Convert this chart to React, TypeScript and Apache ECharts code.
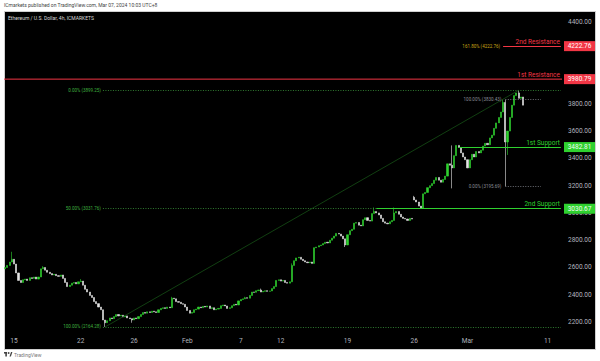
import React, { useEffect, useRef } from "react";
import * as echarts from "echarts";

const tradingDays = [
  "2024-01-12",
  "2024-01-15", "2024-01-16", "2024-01-17", "2024-01-18", "2024-01-19",
  "2024-01-22", "2024-01-23", "2024-01-24", "2024-01-25", "2024-01-26",
  "2024-01-29", "2024-01-30", "2024-01-31", "2024-02-01", "2024-02-02",
  "2024-02-05", "2024-02-06", "2024-02-07", "2024-02-08", "2024-02-09",
  "2024-02-12", "2024-02-13", "2024-02-14", "2024-02-15", "2024-02-16",
  "2024-02-19", "2024-02-20", "2024-02-21", "2024-02-22", "2024-02-23",
  "2024-02-26", "2024-02-27", "2024-02-28", "2024-02-29", "2024-03-01",
  "2024-03-04", "2024-03-05", "2024-03-06", "2024-03-07", "2024-03-08",
  "2024-03-11", "2024-03-12",
];
const sessionHours = ["00:00", "04:00", "08:00", "12:00", "16:00", "20:00"];

const xTickLabels: Record<string, string> = {
  "2024-01-15 00:00": "15",
  "2024-01-22 00:00": "22",
  "2024-01-26 00:00": "26",
  "2024-02-01 00:00": "Feb",
  "2024-02-07 00:00": "7",
  "2024-02-12 00:00": "12",
  "2024-02-19 00:00": "19",
  "2024-02-26 00:00": "26",
  "2024-03-01 00:00": "Mar",
  "2024-03-11 00:00": "11",
};

const yTicks = [2200, 2400, 2600, 2800, 3000, 3200, 3400, 3600, 3800, 4000, 4200, 4400];

const firstOpen = 2590;
const closes = [
  2600, 2615, 2640, 2660, 2625, 2560, 2505, 2490, 2510, 2515,
  2505, 2525, 2520, 2530, 2515, 2530, 2590, 2600, 2580, 2565,
  2555, 2545, 2550, 2540, 2535, 2545, 2520, 2490, 2460, 2470,
  2485, 2490, 2480, 2495, 2500, 2470, 2440, 2420, 2395, 2380,
  2350, 2335, 2310, 2290, 2215, 2195, 2210, 2230, 2225, 2240,
  2255, 2245, 2250, 2238, 2245, 2230, 2225, 2215, 2230, 2225,
  2240, 2255, 2270, 2265, 2275, 2270, 2280, 2275, 2270, 2290,
  2300, 2305, 2300, 2310, 2305, 2375, 2370, 2350, 2345, 2335,
  2330, 2310, 2285, 2265, 2270, 2290, 2295, 2310, 2305, 2315,
  2310, 2318, 2300, 2305, 2290, 2295, 2300, 2320, 2325, 2318,
  2300, 2305, 2320, 2330, 2325, 2355, 2365, 2370, 2378, 2375,
  2395, 2420, 2418, 2430, 2435, 2420, 2425, 2430, 2425, 2428,
  2445, 2460, 2505, 2510, 2500, 2505, 2490, 2485, 2495, 2615,
  2650, 2670, 2675, 2660, 2650, 2640, 2635, 2640, 2630, 2745,
  2750, 2760, 2765, 2775, 2785, 2780, 2800, 2815, 2830, 2850,
  2845, 2830, 2810, 2765, 2840, 2870, 2880, 2925, 2930, 2910,
  2905, 2950, 2965, 2945, 2940, 2995, 3010, 3000, 2985, 2960,
  2935, 2925, 2920, 2935, 2945, 3000, 3010, 2990, 2970, 2960,
  2955, 2945, 2960, 2955, 3095, 3080, 3050, 3035, 3140, 3150,
  3185, 3200, 3215, 3240, 3260, 3240, 3225, 3245, 3270, 3360,
  3350, 3330, 3420, 3495, 3480, 3440, 3410, 3390, 3330, 3390,
  3430, 3410, 3450, 3440, 3460, 3490, 3510, 3500, 3550, 3570,
  3620, 3660, 3700, 3740, 3810, 3520, 3600, 3700, 3790, 3860,
  3880, 3840, 3850, 3790,
];
const gapOpens: Record<number, number> = { 184: 3115 };
const wickHighs: Record<number, number> = {
  3: 2715, 17: 2610, 34: 2515, 75: 2385, 108: 2385, 115: 2445, 129: 2630,
  166: 3040, 175: 3040, 184: 3125, 201: 3495, 224: 3830, 225: 3830, 231: 3899.25,
};
const wickLows: Record<number, number> = {
  45: 2164.28, 57: 2195, 153: 2750, 201: 3180, 225: 3195.69, 226: 3425,
};

const res2 = 4222.76;
const res1 = 3980.79;
const sup1 = 3482.81;
const sup2 = 3030.67;
const fibGreen = [
  { label: "0.00% (3899.25)", value: 3899.25 },
  { label: "50.00% (3031.76)", value: 3031.76 },
  { label: "100.00% (2164.28)", value: 2164.28 },
];
const fibGrey = [
  { label: "100.00% (3830.43)", value: 3830.43 },
  { label: "0.00% (3195.69)", value: 3195.69 },
];
const fibExtLabel = "161.80% (4222.76)";
const priceBoxes = [
  { value: res2, bg: "#f23645", fg: "#ffffff" },
  { value: res1, bg: "#f23645", fg: "#ffffff" },
  { value: sup1, bg: "#2fd12f", fg: "#f4fff4" },
  { value: sup2, bg: "#2fd12f", fg: "#f4fff4" },
];

const RED = "#f23645";
const GREEN = "#2fd12f";
const FONT = "Roboto, 'Liberation Sans', sans-serif";

export default function App() {
  const ref = useRef<HTMLDivElement>(null);
  useEffect(() => {
    if (!ref.current) return;
    const chart = echarts.init(ref.current, undefined, { renderer: "svg" });

    const categories: string[] = [];
    tradingDays.forEach((d, i) => {
      sessionHours.forEach((h) => {
        if (i === 0 && h < "08:00") return;
        if (i === tradingDays.length - 1 && h !== "00:00") return;
        categories.push(`${d} ${h}`);
      });
    });

    const candles = closes.map((c, k) => {
      const o = gapOpens[k] ?? (k === 0 ? firstOpen : closes[k - 1]);
      const hi = Math.max(o, c, wickHighs[k] ?? -Infinity);
      const lo = Math.min(o, c, wickLows[k] ?? Infinity);
      return [o, c, lo, hi];
    });

    const lastCat = categories[categories.length - 1];
    const textOnLine = (text: string, color: string) => ({
      show: true,
      position: "insideEndTop",
      formatter: text,
      color,
      fontSize: 6.5,
      fontFamily: FONT,
      distance: 1,
    });

    const markData: any[] = [
      ...fibGreen.map((f) => [
        {
          coord: [categories[44], f.value],
          lineStyle: { color: "#3c9a3c", width: 0.8, type: [1, 1.5] },
          label: {
            show: true,
            position: "start",
            formatter: f.label,
            color: "#3fae3f",
            fontSize: 4.5,
            fontFamily: FONT,
            distance: 2,
          },
        },
        { coord: [lastCat, f.value] },
      ]),
      ...fibGrey.map((f) => [
        {
          coord: [categories[225], f.value],
          lineStyle: { color: "#8a8d96", width: 0.8, type: [1, 1.5] },
          label: {
            show: true,
            position: "start",
            formatter: f.label,
            color: "#8a8d96",
            fontSize: 4.5,
            fontFamily: FONT,
            distance: 4,
          },
        },
        { coord: [categories[241], f.value] },
      ]),
      [
        { coord: [categories[45], fibGreen[2].value], lineStyle: { color: "#185a18", width: 0.7, type: "solid" }, label: { show: false } },
        { coord: [categories[231], fibGreen[0].value] },
      ],
      [
        { coord: [categories[224], res2], lineStyle: { color: RED, width: 1, type: "solid" }, label: textOnLine("2nd Resistance", RED) },
        { coord: [lastCat, res2] },
      ],
      [
        {
          coord: [categories[224], res2],
          lineStyle: { color: "rgba(0,0,0,0)", width: 0 },
          label: {
            show: true,
            position: "start",
            formatter: fibExtLabel,
            color: "#c8a415",
            fontSize: 4.5,
            fontFamily: FONT,
            distance: 3,
          },
        },
        { coord: [categories[226], res2] },
      ],
      [
        { coord: [categories[204], sup1], lineStyle: { color: GREEN, width: 1.1, type: "solid" }, label: textOnLine("1st Support", GREEN) },
        { coord: [lastCat, sup1] },
      ],
      [
        { coord: [categories[167], sup2], lineStyle: { color: GREEN, width: 1.1, type: "solid" }, label: textOnLine("2nd Support", GREEN) },
        { coord: [lastCat, sup2] },
      ],
      [
        { coord: [categories[0], res1], lineStyle: { color: "rgba(0,0,0,0)", width: 0 }, label: textOnLine("1st Resistance", RED) },
        { coord: [lastCat, res1] },
      ],
    ];

    const baseGraphic: any[] = [
      {
        type: "rect",
        z: -10,
        silent: true,
        shape: { x: 4.5, y: 11.5, width: 591, height: 338 },
        style: { fill: "#000000", stroke: "#cfcfcf", lineWidth: 1 },
      },
      {
        type: "text",
        x: 4,
        y: 5,
        style: {
          text: "ICmarkets published on TradingView.com, Mar 07, 2024 10:03 UTC+8",
          fill: "#444444",
          fontSize: 5,
          fontFamily: FONT,
          verticalAlign: "middle",
        },
      },
      {
        type: "text",
        x: 8,
        y: 17.5,
        style: {
          text: "Ethereum / U.S. Dollar, 4h, ICMARKETS",
          fill: "#d8d8d8",
          fontSize: 5,
          fontFamily: FONT,
          verticalAlign: "middle",
        },
      },
      { type: "rect", shape: { x: 4, y: 352, width: 3, height: 1.6 }, style: { fill: "#444" } },
      { type: "rect", shape: { x: 5.3, y: 352, width: 1.6, height: 4.5 }, style: { fill: "#444" } },
      { type: "circle", shape: { cx: 8.6, cy: 353, r: 0.9 }, style: { fill: "#444" } },
      { type: "polygon", shape: { points: [[9.5, 356.5], [11, 352], [12.4, 352], [10.9, 356.5]] }, style: { fill: "#444" } },
      {
        type: "text",
        x: 14,
        y: 354.5,
        style: {
          text: "TradingView",
          fill: "#777777",
          fontSize: 5,
          fontFamily: FONT,
          verticalAlign: "middle",
        },
      },
    ];

    chart.setOption({
      animation: false,
      backgroundColor: "#ffffff",
      grid: { left: 4, right: 38, top: 12, bottom: 29, containLabel: false },
      xAxis: {
        type: "category",
        data: categories,
        boundaryGap: true,
        axisLine: { show: false },
        axisTick: { show: false },
        splitLine: { show: false },
        axisLabel: {
          interval: (_i: number, v: string) => !!xTickLabels[v],
          formatter: (v: string) => xTickLabels[v] ?? "",
          color: "#b2b5be",
          fontSize: 6.5,
          fontFamily: FONT,
          margin: 5,
        },
      },
      yAxis: {
        type: "value",
        position: "right",
        min: 2127,
        max: 4473,
        scale: true,
        axisLine: { show: false },
        axisTick: { show: false },
        splitLine: { show: false },
        axisLabel: {
          customValues: yTicks,
          formatter: (v: number) => v.toFixed(2),
          color: "#b2b5be",
          fontSize: 6.5,
          fontFamily: FONT,
          margin: 6,
        },
      },
      graphic: baseGraphic,
      series: [
        {
          type: "candlestick",
          data: candles,
          barWidth: 1.6,
          clip: false,
          itemStyle: {
            color: GREEN,
            color0: "#e6e6e6",
            borderColor: GREEN,
            borderColor0: "#e6e6e6",
            borderWidth: 0.6,
          },
          markLine: {
            symbol: ["none", "none"],
            silent: true,
            animation: false,
            data: markData,
          },
        },
      ],
    });

    const extra: any[] = [];
    const yRes1 = chart.convertToPixel({ yAxisIndex: 0 }, res1) as number;
    extra.push({
      type: "line",
      z: 5,
      silent: true,
      shape: { x1: 4, y1: yRes1, x2: 562, y2: yRes1 },
      style: { stroke: RED, lineWidth: 1 },
    });
    priceBoxes.forEach((b) => {
      const y = chart.convertToPixel({ yAxisIndex: 0 }, b.value) as number;
      extra.push({
        type: "rect",
        z: 100,
        shape: { x: 564, y: y - 5, width: 31, height: 10 },
        style: { fill: b.bg },
      });
      extra.push({
        type: "text",
        z: 101,
        x: 579.5,
        y: y,
        style: {
          text: b.value.toFixed(2),
          fill: b.fg,
          fontSize: 6.5,
          fontFamily: FONT,
          align: "center",
          verticalAlign: "middle",
        },
      });
    });
    chart.setOption({ graphic: [...baseGraphic, ...extra] });

    return () => chart.dispose();
  }, []);

  return (
    <div
      ref={ref}
      style={{ position: "fixed", left: 0, top: 0, width: 600, height: 361 }}
    />
  );
}
